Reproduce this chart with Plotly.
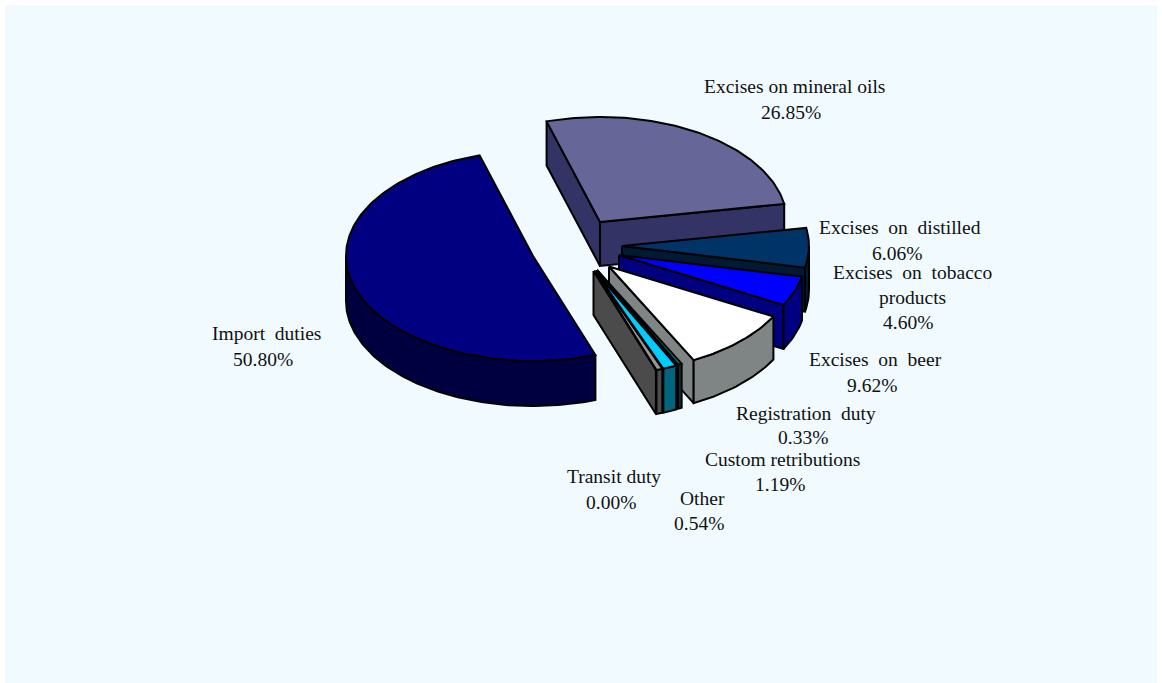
import numpy as np
import plotly.graph_objects as go

# ---- data ----
categories = ["Excises on mineral oils", "Excises on distilled", "Excises on tobacco products",
              "Excises on beer", "Registration duty", "Custom retributions", "Other",
              "Transit duty", "Import duties"]
values = [26.85, 6.06, 4.60, 9.62, 0.33, 1.19, 0.54, 0.00, 50.80]

# ---- styles ----
top_colors = ["#666699", "#003366", "#0000ff", "#ffffff", "#008080", "#00ccff", "#969696", "#969696", "#000080"]
side_colors = ["#333366", "#001a33", "#000080", "#7f8485", "#004040", "#006680", "#4b4b4b", "#4b4b4b", "#000040"]
# where each exploded slice's apex lands in the picture
apex_x = [600, 622, 619, 609, 597, 595, 594, 593.5, 533]
apex_y = [222, 246, 255, 266.5, 270, 271, 271, 271, 256]
# wall height of each slice
depths = [44, 44, 44, 43, 44, 44, 44, 44, 45]
# label lines: (text, x, y)
label_layout = [
    [("Excises on mineral oils", 794, 86), ("{v}", 791, 112)],
    [("Excises\u00a0 on\u00a0 distilled", 900, 227), ("{v}", 897, 253)],
    [("Excises\u00a0 on\u00a0 tobacco", 912, 272), ("products", 912, 297), ("{v}", 908, 322)],
    [("Excises\u00a0 on\u00a0 beer", 875, 359), ("{v}", 872, 385)],
    [("Registration\u00a0 duty", 806, 413), ("{v}", 803, 437)],
    [("Custom retributions", 782, 459), ("{v}", 780, 484)],
    [("Other", 702, 498), ("{v}", 699, 523)],
    [("Transit duty", 614, 476), ("{v}", 611, 502)],
    [("Import\u00a0 duties", 266, 333), ("{v}", 263, 359)],
]

RX, RY = 187, 105
START = -16.6
total = sum(values)


def rim(ax, ay, a0, a1, dy=0):
    t = np.radians(np.linspace(a0, a1, max(2, int(abs(a1 - a0)) + 2)))
    return ax + RX * np.sin(t), ay - RY * np.cos(t) + dy


fig = go.Figure()


def poly(x, y, color, name):
    fig.add_trace(go.Scatter(x=list(x), y=list(y), mode="lines", fill="toself", fillcolor=color,
                             line=dict(color="#000000", width=2), name=name, hoverinfo="name",
                             showlegend=False))


angle = START
for i, (cat, val) in enumerate(zip(categories, values)):
    a0, a1 = angle, angle + val / total * 360
    angle = a1
    ax, ay, depth = apex_x[i], apex_y[i], depths[i]
    top_x, top_y = rim(ax, ay, a0, a1)
    # radial walls facing the viewer
    for edge, normal in ((a0, a0 - 90), (a1, a1 + 90)):
        if np.cos(np.radians(normal)) < 0:
            ex, ey = rim(ax, ay, edge, edge)
            ex, ey = ex[0], ey[0]
            poly([ax, ex, ex, ax, ax], [ay, ey, ey + depth, ay + depth, ay], side_colors[i], cat)
    # outer curved wall
    lo, hi = max(a0, 90), min(a1, 270)
    if hi > lo:
        ux, uy = rim(ax, ay, lo, hi)
        lx, ly = rim(ax, ay, hi, lo, depth)
        poly(np.r_[ux, lx, ux[0]], np.r_[uy, ly, uy[0]], side_colors[i], cat)
    # top face
    poly(np.r_[ax, top_x, ax], np.r_[ay, top_y, ay], top_colors[i], cat)

for val, lines in zip(values, label_layout):
    for text, x, y in lines:
        fig.add_annotation(x=x, y=y, text=text.format(v=f"{val:.2f}%"), showarrow=False,
                           xanchor="center", yanchor="middle", xref="x", yref="y",
                           font=dict(family="Liberation Serif", size=19.5, color="#111111"))

fig.add_shape(type="rect", x0=5, y0=5, x1=1157, y1=683, xref="x", yref="y", layer="below",
              line=dict(width=0), fillcolor="#f0faff")

fig.update_layout(width=1162, height=683, margin=dict(l=0, r=0, t=0, b=0), paper_bgcolor="#ffffff",
                  plot_bgcolor="#ffffff", showlegend=False,
                  xaxis=dict(range=[0, 1162], visible=False, fixedrange=True),
                  yaxis=dict(range=[683, 0], visible=False, fixedrange=True))
fig.write_html("out.html", post_script="document.body.style.margin='0';",
               config=dict(displayModeBar=False))
